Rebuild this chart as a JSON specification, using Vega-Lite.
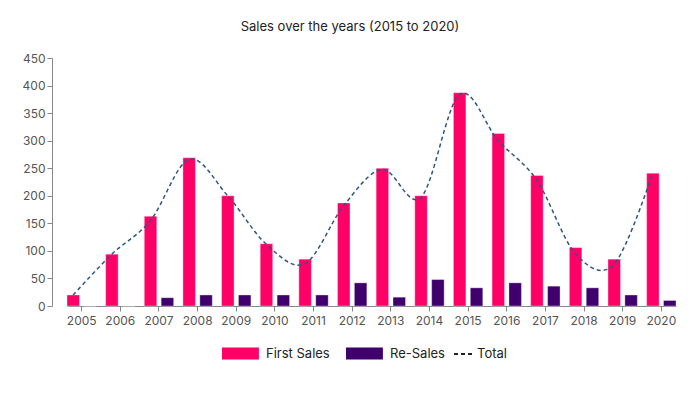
{
  "$schema": "https://vega.github.io/schema/vega-lite/v6.json",
  "width": 624,
  "height": 248,
  "autosize": {"type": "none"},
  "padding": {"left": 52, "top": 58, "right": 24, "bottom": 87},
  "background": "white",
  "title": {"text": "Sales over the years (2015 to 2020)", "fontSize": 13, "fontWeight": "normal", "color": "#222", "font": "Inter", "offset": 18, "dx": -14},
  "config": {
    "view": {"stroke": null},
    "font": "Inter",
    "axis": {"domainColor": "#888", "tickColor": "#888", "labelColor": "#555", "labelFontSize": 12, "grid": false, "tickSize": 5, "title": null},
    "legend": {"layout": {"bottom": {"anchor": "middle", "direction": "horizontal", "center": true, "margin": 8}}}
  },
  "data": {
    "values": [
      {"year": "2005", "first": 20, "resale": 0, "total": 20},
      {"year": "2006", "first": 94, "resale": 0, "total": 94},
      {"year": "2007", "first": 163, "resale": 15, "total": 155},
      {"year": "2008", "first": 269, "resale": 20, "total": 266},
      {"year": "2009", "first": 200, "resale": 20, "total": 200},
      {"year": "2010", "first": 113, "resale": 20, "total": 112},
      {"year": "2011", "first": 85, "resale": 20, "total": 77},
      {"year": "2012", "first": 187, "resale": 42, "total": 182},
      {"year": "2013", "first": 250, "resale": 16, "total": 248},
      {"year": "2014", "first": 200, "resale": 48, "total": 197},
      {"year": "2015", "first": 387, "resale": 33, "total": 384},
      {"year": "2016", "first": 313, "resale": 42, "total": 300},
      {"year": "2017", "first": 237, "resale": 36, "total": 228},
      {"year": "2018", "first": 106, "resale": 33, "total": 95},
      {"year": "2019", "first": 85, "resale": 20, "total": 76},
      {"year": "2020", "first": 241, "resale": 10, "total": 242}
    ]
  },
  "encoding": {
    "x": {"field": "year", "type": "nominal", "scale": {"range": [15, 624], "paddingInner": 0.24, "paddingOuter": 0},
      "axis": {"labelAngle": 0, "labelPadding": 4}}
  },
  "layer": [
    {
      "transform": [
        {"fold": ["first", "resale"], "as": ["key", "value"]},
        {"calculate": "datum.key === 'first' ? 'First Sales' : 'Re-Sales'", "as": "series"}
      ],
      "mark": {"type": "bar", "strokeWidth": 1, "strokeOpacity": 0.35, "stroke": "white"},
      "encoding": {
        "xOffset": {"field": "series", "type": "nominal", "scale": {"paddingInner": 0.26, "paddingOuter": 0}},
        "y": {"field": "value", "type": "quantitative", "scale": {"domain": [0, 450]}, "axis": {"values": [0,50,100,150,200,250,300,350,400,450], "labelOverlap": false}},
        "fill": {"field": "series", "type": "nominal", "scale": {"domain": ["First Sales", "Re-Sales"], "range": ["#ff0066", "#3f006d"]},
          "legend": {"orient": "bottom", "title": null, "direction": "horizontal", "symbolType": "M-1,-0.67H3.1V0.67H-1Z", "symbolSize": 324, "symbolStrokeWidth": 0, "labelFontSize": 13, "labelColor": "#222", "columnPadding": 16, "labelOffset": 26, "offset": 18}}
      }
    },
    {
      "mark": {"type": "line", "interpolate": "cardinal", "stroke": "#2f5585", "strokeWidth": 1.5},
      "encoding": {
        "x": {"field": "year", "type": "nominal", "bandPosition": 0.21},
        "y": {"field": "total", "type": "quantitative", "axis": {"values": [0,50,100,150,200,250,300,350,400,450], "labelOverlap": false}},
        "strokeDash": {"datum": "Total", "scale": {"domain": ["Total"], "range": [[4, 3]]},
          "legend": {"orient": "bottom", "title": null, "direction": "horizontal", "symbolType": "stroke", "symbolStrokeColor": "#222", "symbolSize": 324, "symbolStrokeWidth": 2, "labelFontSize": 13, "labelColor": "#222", "labelOffset": 4, "offset": 18}}
      }
    }
  ]
}
